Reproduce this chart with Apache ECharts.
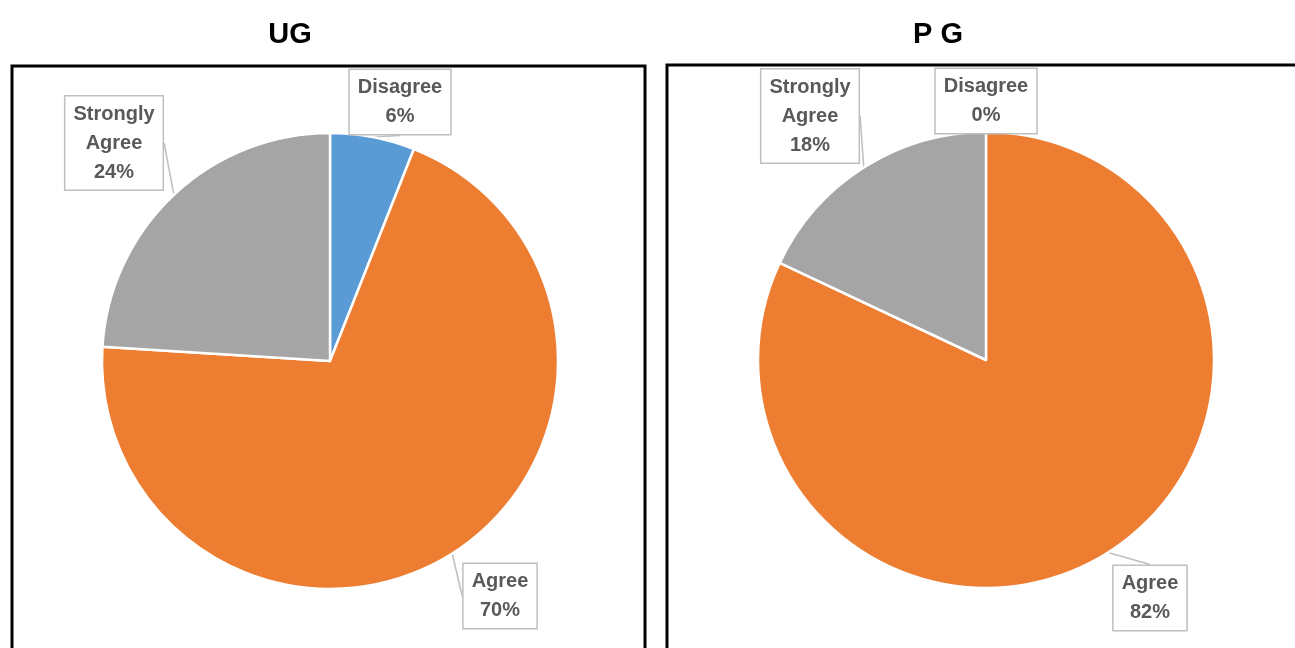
<!DOCTYPE html>
<html>
<head>
<meta charset="utf-8">
<script src="https://cdn.jsdelivr.net/npm/echarts@6/dist/echarts.min.js"></script>
<style>html,body{margin:0;padding:0;background:#fff}#c{width:1295px;height:648px}</style>
</head>
<body>
<div id="c"></div>
<script>
const categories = ['Disagree', 'Agree', 'Strongly Agree'];
const ugValues = [6, 70, 24];
const pgValues = [0, 82, 18];
const titles = ['UG', 'P G'];
const colors = ['#5B9BD5', '#ED7D31', '#A5A5A5'];

// label box centres (layout only)
const ugLabelPos = [[400, 102], [500, 596], [114, 143]];
const pgLabelPos = [[986, 101], [1150, 598], [810, 116]];

const chart = echarts.init(document.getElementById('c'));

function pieSeries(values, center, labelPos) {
  return {
    type: 'pie',
    center: center,
    radius: 228,
    startAngle: 90,
    clockwise: true,
    avoidLabelOverlap: false,
    animation: false,
    data: categories.map((c, i) => ({ name: c, value: values[i], itemStyle: { color: colors[i] } })),
    itemStyle: { borderColor: '#fff', borderWidth: 2.5 },
    label: {
      show: true,
      formatter: p => p.name.replace(' ', '\n') + '\n' + p.value + '%',
      fontFamily: 'Liberation Sans, Arial, sans-serif',
      fontWeight: 'bold',
      fontSize: 20,
      lineHeight: 29,
      color: '#595959',
      backgroundColor: '#fff',
      borderColor: '#bfbfbf',
      borderWidth: 1.5,
      padding: [4, 8, 2, 8],
      align: 'center'
    },
    labelLine: { show: true, length: 4, length2: 0, smooth: false, lineStyle: { color: '#bfbfbf', width: 1.5 } },
    labelLayout: function (params) {
      const p = labelPos[params.dataIndex];
      return { x: p[0], y: p[1], align: 'center', verticalAlign: 'middle' };
    },
    emphasis: { disabled: true }
  };
}

chart.setOption({
  backgroundColor: '#fff',
  title: [
    { text: titles[0], left: 285, top: 15, textAlign: 'center',
      textStyle: { fontFamily: 'Liberation Sans, Arial, sans-serif', fontWeight: 'bold', fontSize: 29, color: '#000' } },
    { text: titles[1], left: 933, top: 15, textAlign: 'center',
      textStyle: { fontFamily: 'Liberation Sans, Arial, sans-serif', fontWeight: 'bold', fontSize: 29, color: '#000' } }
  ],
  graphic: [
    { type: 'rect', shape: { x: 12, y: 66, width: 633, height: 620 }, style: { fill: 'none', stroke: '#000', lineWidth: 3 }, z: 100 },
    { type: 'rect', shape: { x: 667, y: 65, width: 660, height: 620 }, style: { fill: 'none', stroke: '#000', lineWidth: 3 }, z: 100 }
  ],
  series: [
    pieSeries(ugValues, [330, 361], ugLabelPos),
    pieSeries(pgValues, [986, 360], pgLabelPos)
  ]
});
</script>
</body>
</html>
